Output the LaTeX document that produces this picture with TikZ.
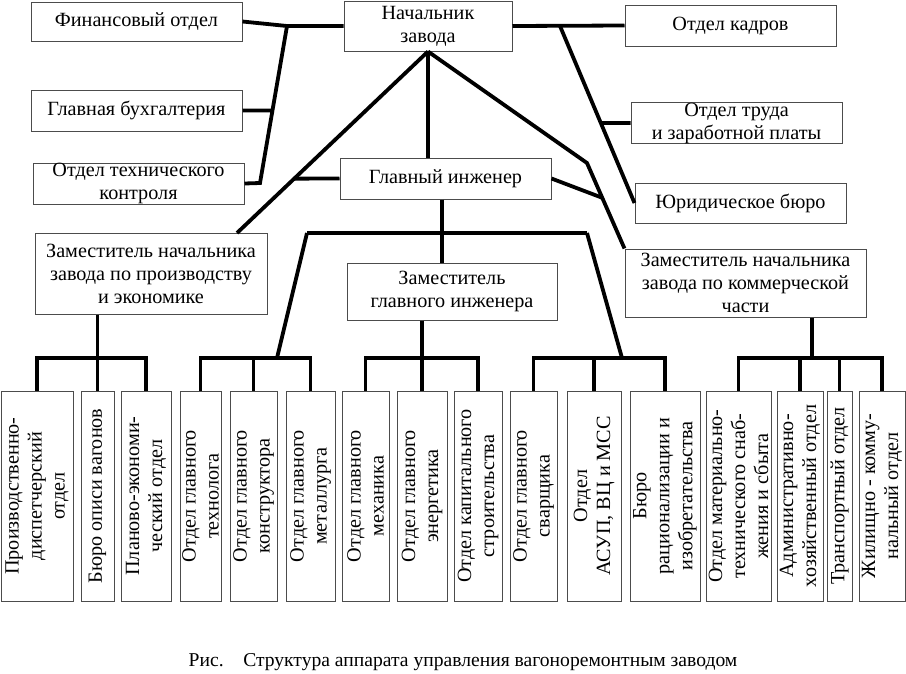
\documentclass[tikz,border=0pt]{standalone}
\usepackage{fontspec}
\setmainfont{Liberation Serif}
\usetikzlibrary{calc}
\tikzset{
  box/.style={draw=black!70, line width=1pt, inner sep=0pt, align=center,
    font=\fontsize{20.2}{23}\selectfont},
  vbox/.style={box, rotate=90, minimum width=210pt},
  link/.style={line width=3.8pt, black},
}
\newcommand{\hb}[5]{\node[box, minimum width=#3pt, minimum height=#4pt] (#5) at (#1,#2)}
\newcommand{\vb}[3]{\node[vbox, minimum height=#2pt] (#3) at (#1,496)}
\begin{document}
\begin{tikzpicture}[x=1pt,y=-1pt]
\useasboundingbox (0,0) rectangle (906,673);
% top boxes
\hb{136.5}{21.5}{211}{39}{fin} {Финансовый отдел};
\hb{428}{26}{168}{50}{nach} {Начальник\\завода};
\hb{730.5}{25.5}{211}{41}{kadr} {Отдел кадров};
\hb{136.5}{110.5}{211}{41}{buh} {Главная бухгалтерия};
\hb{138.5}{183.5}{211}{41}{otk} {Отдел технического\\контроля};
\hb{445.5}{178.5}{211}{41}{gi} {Главный инженер};
\hb{736.5}{123}{211}{40}{trud} {Отдел труда\\и заработной платы};
\hb{740.5}{203}{211}{40}{jur} {Юридическое бюро};
\hb{151}{273.5}{232}{81}{zpe} {Заместитель начальника\\завода по производству\\и экономике};
\hb{452}{291.5}{210}{57}{zgi} {Заместитель\\главного инженера};
\hb{745.5}{283}{241}{68}{zk} {Заместитель начальника\\завода по коммерческой\\части};
% bottom boxes
\vb{37}{72}{b1} {Производственно-\\диспетчерский\\отдел};
\vb{97.5}{33}{b2} {Бюро описи вагонов};
\vb{146}{50}{b3} {Планово-экономи-\\ческий отдел};
\vb{200.5}{41}{b4} {Отдел главного\\технолога};
\vb{253.5}{47}{b5} {Отдел главного\\конструктора};
\vb{310.5}{49}{b6} {Отдел главного\\металлурга};
\vb{365.5}{47}{b7} {Отдел главного\\механика};
\vb{422}{50}{b8} {Отдел главного\\энергетика};
\vb{478}{48}{b9} {Отдел капитального\\строительства};
\vb{533.5}{47}{b10} {Отдел главного\\сварщика};
\vb{594}{54}{b11} {Отдел\\АСУП, ВЦ и МСС};
\vb{665}{70}{b12} {Бюро\\рационализации и\\изобретательства};
\vb{738.5}{65}{b13} {Отдел материально-\\технического снаб-\\жения и сбыта};
\vb{800}{46}{b14} {Административно-\\хозяйственный отдел};
\vb{839.5}{25}{b15} {Транспортный отдел};
\vb{882}{46}{b16} {Жилищно - комму-\\нальный отдел};
% caption
\node[font=\fontsize{19.6}{23}\selectfont] (cap) at (463,662) {Рис.\quad Структура аппарата управления вагоноремонтным заводом};
% coordinates
\coordinate (lsTop) at (287,26);
\coordinate (lsBot) at (260,183);
\coordinate (rsTop) at (560,26);
\coordinate (zpeT) at (237,233);
\coordinate (bendR) at (587,163);
\coordinate (busTop) at (442,233);
\coordinate (barL) at (307,233);
\coordinate (barR) at (587,233);
\coordinate (busY) at (0,358);
\coordinate (techJ) at (277,358);
\coordinate (rightJ) at (622,358);
\coordinate (zkJ) at (812,358);
% left spine
\draw[link] (fin.east) -- (lsTop) -- (nach.west);
\draw[link] (lsTop) -- (lsBot) -- (otk.east);
\draw[link] (buh.east) -- ($(lsTop)!0.538!(lsBot)$);
% right spine
\draw[link] (nach.east) -- (kadr.west);
\draw[link] (rsTop) -- (jur.west);
\draw[link] (trud.west) -- ($(rsTop)!0.548!(jur.west)$);
% from head
\draw[link] (nach.south) -- (nach.south |- gi.north);
\draw[link] (nach.south) -- (zpeT);
\draw[link] (gi.west) -- ($(nach.south)!0.7005!(zpeT)$);
\draw[link] (nach.south) -- (bendR) -- (zk.north west);
\draw[link] (gi.east) -- ($(bendR)!0.407!(zk.north west)$);
% chief engineer
\draw[link] (gi.south -| busTop) -- (zgi.north -| busTop);
\draw[link] (barL) -- (barR);
\draw[link] (barL) -- (techJ);
\draw[link] (barR) -- (rightJ);
% buses
\draw[link] (b1.east) -- (b1.east |- busY) -- (b3.east |- busY) -- (b3.east);
\draw[link] (zpe.south -| b2.east) -- (b2.east);
\draw[link] (b4.east) -- (b4.east |- busY) -- (b6.east |- busY) -- (b6.east);
\draw[link] (b5.east |- busY) -- (b5.east);
\draw[link] (b7.east) -- (b7.east |- busY) -- (b9.east |- busY) -- (b9.east);
\draw[link] (zgi.south -| b8.east) -- (b8.east);
\draw[link] (b10.east) -- (b10.east |- busY) -- (b12.east |- busY) -- (b12.east);
\draw[link] (b11.east |- busY) -- (b11.east);
\draw[link] (b13.east) -- (b13.east |- busY) -- (b16.east |- busY) -- (b16.east);
\draw[link] (b14.east |- busY) -- (b14.east);
\draw[link] (b15.east |- busY) -- (b15.east);
\draw[link] (zk.south -| zkJ) -- (zkJ);
\end{tikzpicture}
\end{document}
